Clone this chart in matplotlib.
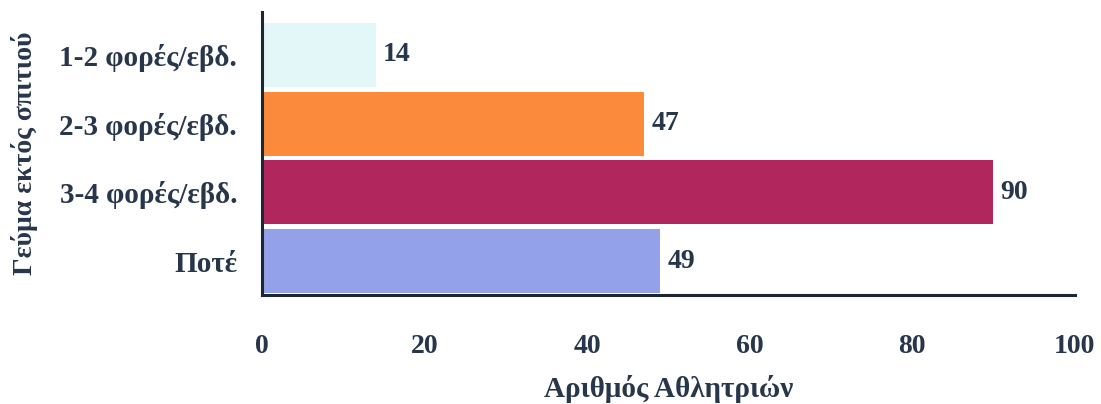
import matplotlib.pyplot as plt

# Δεδομένα
categories = ["1-2 φορές/εβδ.", "2-3 φορές/εβδ.", "3-4 φορές/εβδ.", "Ποτέ"]
counts = [14, 47, 90, 49]
bar_colors = ["#e4f7f8", "#fc8a3d", "#b2265e", "#93a1ea"]
x_ticks = [0, 20, 40, 60, 80, 100]

text_color = "#27364a"

def main():
    plt.rcParams["font.family"] = ["Liberation Serif", "DejaVu Serif"]
    plt.rcParams["font.weight"] = "bold"

    fig = plt.figure(figsize=(11.01, 4.04), dpi=100)
    ax = fig.add_axes([0.238, 0.270, 0.738, 0.700])

    positions = list(range(len(categories)))
    ax.barh(positions, counts, height=0.93, color=bar_colors)

    # Τιμές δίπλα στις μπάρες
    for pos, val in zip(positions, counts):
        ax.text(val + 0.9, pos, str(val), va="center", ha="left",
                fontsize=20, fontweight="bold", color=text_color)

    ax.set_xlim(0, 100)
    # ανεστραμμένος άξονας: η πρώτη κατηγορία πάνω
    ax.set_ylim(3.49, -0.62)

    ax.set_yticks(positions)
    ax.set_yticklabels(categories)
    ax.set_xticks(x_ticks)
    ax.tick_params(axis="both", length=0, labelcolor=text_color)
    ax.tick_params(axis="x", pad=28, labelsize=20)
    ax.tick_params(axis="y", pad=18, labelsize=21)

    ax.set_xlabel("Αριθμός Αθλητριών", fontsize=21, fontweight="bold",
                  color=text_color, va="top")
    ax.xaxis.set_label_coords(0.5, -0.283)
    ax.set_ylabel("Γεύμα εκτός σπιτιού", fontsize=20, fontweight="bold",
                  color=text_color)
    ax.yaxis.set_label_coords(-0.276, 0.5)

    for side in ["top", "right"]:
        ax.spines[side].set_visible(False)
    for side in ["left", "bottom"]:
        ax.spines[side].set_linewidth(2.2)
        ax.spines[side].set_color("#1c2733")

    fig.savefig("out.png", dpi=100)

if __name__ == "__main__":
    main()
